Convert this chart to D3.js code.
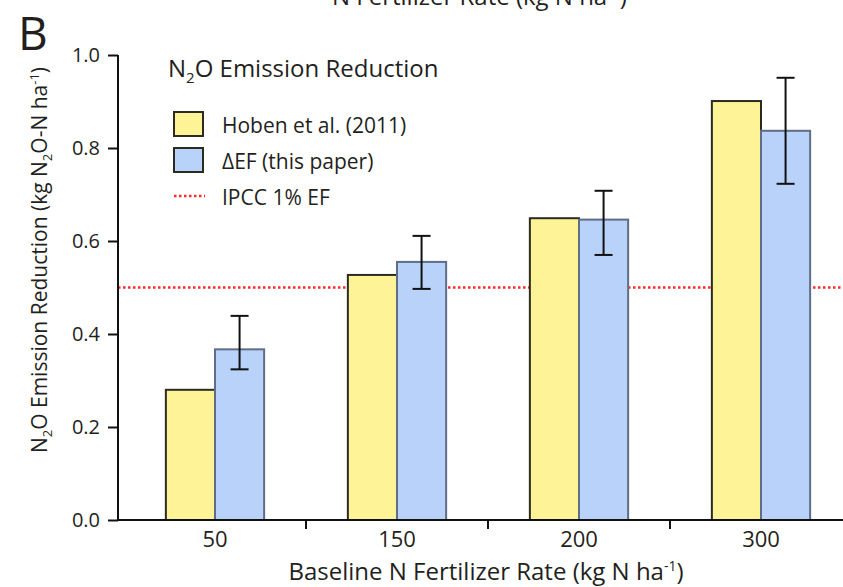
<!DOCTYPE html>
<html>
<head>
<meta charset="utf-8">
<title>N2O Emission Reduction</title>
<script src="https://d3js.org/d3.v7.min.js"></script>
<style>
  body { margin: 0; background: #fff; }
  text { font-family: "Open Sans", sans-serif; fill: #231f20; }
</style>
</head>
<body>
<div id="chart"></div>
<script>
// data
let categories = ["50", "150", "200", "300"];
let hoben = [0.280, 0.527, 0.649, 0.901];
let deltaEF = [0.367, 0.555, 0.646, 0.837];
let errLow = [0.324, 0.497, 0.570, 0.723];
let errHigh = [0.439, 0.611, 0.708, 0.951];
let yTicks = [0, 0.2, 0.4, 0.6, 0.8, 1.0];
let ipcc = 0.5;

let W = 843, H = 587;
let svg = d3.select("#chart").append("svg")
    .attr("width", W).attr("height", H);

let x0 = 118;   // y axis position
let y = d3.scaleLinear().domain([0, 1]).range([520, 55]);
let x = d3.scaleBand().domain(categories).range([124, 852])
    .paddingInner(0.46).paddingOuter(0.23);
let xs = d3.scaleBand().domain(["hoben", "ef"]).range([0, x.bandwidth()]);

// IPCC line behind bars
svg.append("line")
    .attr("x1", x0).attr("x2", W)
    .attr("y1", y(ipcc)).attr("y2", y(ipcc))
    .attr("stroke", "#ff2a2a").attr("stroke-width", 2.5)
    .attr("stroke-dasharray", "2.5,2.5");

// bars
let g = svg.selectAll("g.grp").data(categories).enter().append("g")
    .attr("class", "grp")
    .attr("transform", d => "translate(" + x(d) + ",0)");

g.append("rect")
    .attr("x", xs("hoben")).attr("width", xs.bandwidth())
    .attr("y", (d, i) => y(hoben[i]))
    .attr("height", (d, i) => y(0) - y(hoben[i]))
    .attr("fill", "#fef396").attr("stroke", "#2b2b22").attr("stroke-width", 2);

g.append("rect")
    .attr("x", xs("ef")).attr("width", xs.bandwidth())
    .attr("y", (d, i) => y(deltaEF[i]))
    .attr("height", (d, i) => y(0) - y(deltaEF[i]))
    .attr("fill", "#b8d2fa").attr("stroke", "#5f6d86").attr("stroke-width", 2);

// error bars
let cx = xs("ef") + xs.bandwidth() / 2;
g.append("line")
    .attr("x1", cx).attr("x2", cx)
    .attr("y1", (d, i) => y(errLow[i])).attr("y2", (d, i) => y(errHigh[i]))
    .attr("stroke", "#111").attr("stroke-width", 2);
[errLow, errHigh].forEach(function(arr) {
    g.append("line")
        .attr("x1", cx - 9).attr("x2", cx + 9)
        .attr("y1", (d, i) => y(arr[i])).attr("y2", (d, i) => y(arr[i]))
        .attr("stroke", "#111").attr("stroke-width", 2);
});

// y axis
let yAxis = d3.axisLeft(y).tickValues(yTicks).tickFormat(d3.format(".1f"))
    .tickSize(10).tickPadding(8);
let ya = svg.append("g").attr("transform", "translate(" + x0 + ",0)").call(yAxis);
ya.selectAll("path, line").attr("stroke", "#111").attr("stroke-width", 2);
ya.select("path").attr("d", "M0," + y(1) + "V" + (y(0) + 1));
ya.selectAll("text").attr("font-size", 20).attr("fill", "#231f20")
    .attr("font-family", "Open Sans, sans-serif");

// x axis
svg.append("line")
    .attr("x1", x0).attr("x2", W).attr("y1", y(0)).attr("y2", y(0))
    .attr("stroke", "#111").attr("stroke-width", 2);
let gap = x.step() * x.paddingInner() / 2;
svg.selectAll("line.sep").data(categories.slice(1)).enter().append("line")
    .attr("class", "sep")
    .attr("x1", d => x(d) - gap).attr("x2", d => x(d) - gap)
    .attr("y1", y(0)).attr("y2", y(0) + 9)
    .attr("stroke", "#111").attr("stroke-width", 2);
svg.selectAll("text.cat").data(categories).enter().append("text")
    .attr("class", "cat")
    .attr("x", d => x(d) + x.bandwidth() / 2).attr("y", 547)
    .attr("text-anchor", "middle").attr("font-size", 22)
    .text(d => d);

// axis titles
let xt = svg.append("text").attr("x", 486).attr("y", 580)
    .attr("text-anchor", "middle").attr("font-size", 24);
xt.append("tspan").text("Baseline N Fertilizer Rate (kg N ha");
xt.append("tspan").attr("font-size", 14).attr("dy", -9).text("-1");
xt.append("tspan").attr("dy", 9).text(")");

let yt = svg.append("text")
    .attr("transform", "translate(47,260) rotate(-90)")
    .attr("text-anchor", "middle").attr("font-size", 21);
yt.append("tspan").text("N");
yt.append("tspan").attr("font-size", 13).attr("dy", 5).text("2");
yt.append("tspan").attr("dy", -5).text("O Emission Reduction (kg N");
yt.append("tspan").attr("font-size", 13).attr("dy", 5).text("2");
yt.append("tspan").attr("dy", -5).text("O-N ha");
yt.append("tspan").attr("font-size", 13).attr("dy", -8).text("-1");
yt.append("tspan").attr("dy", 8).text(")");

// panel letter and clipped title from panel above
svg.append("text").attr("x", 18).attr("y", 50).attr("font-size", 46).text("B");
let topTitle = svg.append("text").attr("x", 332).attr("y", 5).attr("font-size", 24);
topTitle.append("tspan").text("N Fertilizer Rate (kg N ha");
topTitle.append("tspan").attr("font-size", 14).attr("dy", -9).text("-1");
topTitle.append("tspan").attr("dy", 9).text(")");

// legend
let lt = svg.append("text").attr("x", 168).attr("y", 77).attr("font-size", 24);
lt.append("tspan").text("N");
lt.append("tspan").attr("font-size", 15).attr("dy", 6).text("2");
lt.append("tspan").attr("dy", -6).text("O Emission Reduction");

svg.append("rect").attr("x", 174).attr("y", 112).attr("width", 29).attr("height", 24)
    .attr("fill", "#fef396").attr("stroke", "#2b2b22").attr("stroke-width", 2);
svg.append("text").attr("x", 222).attr("y", 133).attr("font-size", 21).text("Hoben et al. (2011)");
svg.append("rect").attr("x", 174).attr("y", 148).attr("width", 29).attr("height", 24)
    .attr("fill", "#b8d2fa").attr("stroke", "#2b2b22").attr("stroke-width", 2);
svg.append("text").attr("x", 222).attr("y", 169).attr("font-size", 21).text("\u0394EF (this paper)");
svg.append("line").attr("x1", 174).attr("x2", 205).attr("y1", 196).attr("y2", 196)
    .attr("stroke", "#ff2a2a").attr("stroke-width", 2.5).attr("stroke-dasharray", "2.5,2.5");
svg.append("text").attr("x", 222).attr("y", 205).attr("font-size", 21).text("IPCC 1% EF");
</script>
</body>
</html>
